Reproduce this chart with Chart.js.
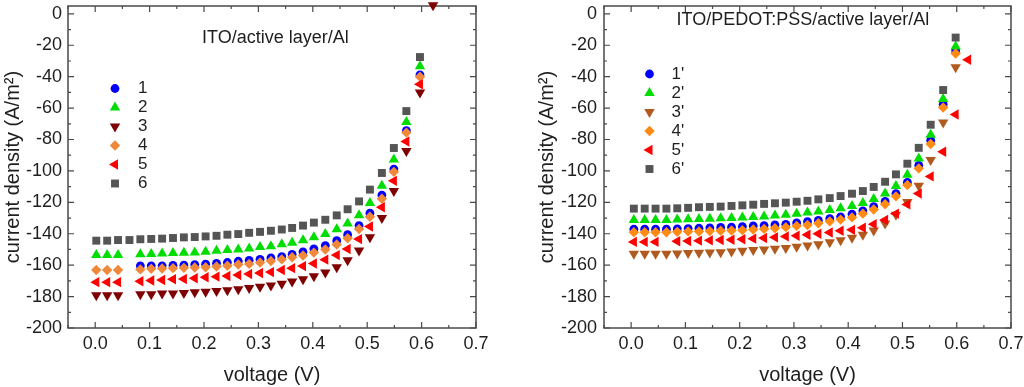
<!DOCTYPE html>
<html>
<head>
<meta charset="utf-8">
<script src="https://cdn.jsdelivr.net/npm/chart.js@4.4.0/dist/chart.umd.min.js"></script>
<style>
  body { margin: 0; background: #fff; }
  .panel { position: absolute; top: 0; width: 512px; height: 387px; }
</style>
</head>
<body>
<div class="panel" style="left:0"><canvas id="leftChart" width="512" height="387"></canvas></div>
<div class="panel" style="left:512px"><canvas id="rightChart" width="512" height="387"></canvas></div>
<script>
// voltage (V), one entry per measurement step
const voltageLeft = [0.002, 0.022, 0.042, 0.063, 0.083, 0.103, 0.123, 0.143, 0.163, 0.183, 0.203, 0.223, 0.243, 0.263, 0.283, 0.303,
    0.323, 0.343, 0.362, 0.382, 0.402, 0.423, 0.444, 0.464, 0.485, 0.505, 0.527, 0.549, 0.572, 0.597, 0.621];
const voltageRight = [0.005, 0.025, 0.045, 0.065, 0.085, 0.105, 0.125, 0.145, 0.165, 0.185, 0.205, 0.225, 0.245, 0.265, 0.285, 0.305,
    0.325, 0.345, 0.366, 0.386, 0.407, 0.427, 0.447, 0.468, 0.488, 0.509, 0.530, 0.552, 0.575, 0.598, 0.621];

// current density (A/m2), ITO/active layer/Al
const jLeft1 = [null, null, null, null, -160.4, -160.4, -160.4, -160.2, -160.0, -159.6, -159.4, -158.8, -158.3, -157.5, -156.9, -156.3,
    -155.4, -154.6, -153.1, -151.5, -149.6, -147.5, -144.4, -140.6, -134.8, -126.9, -115.4, -98.8, -74.4, -38.8, null];
const jLeft2 = [-153.5, -153.5, -153.5, null, -153.1, -152.9, -152.5, -152.3, -152.1, -151.9, -151.5, -150.8, -150.4, -150.0, -149.4, -148.5,
    -147.9, -146.7, -145.8, -144.2, -142.3, -140.2, -137.1, -133.4, -128.2, -120.4, -109.4, -92.7, -68.8, -33.4, null];
const jLeft3 = [-179.2, -179.2, -179.2, null, -178.5, -178.5, -178.1, -178.1, -177.7, -177.3, -176.9, -176.5, -176.0, -175.4, -174.6, -173.8,
    -172.9, -171.9, -170.4, -169.0, -167.0, -164.7, -161.3, -156.8, -150.6, -142.3, -130.0, -112.8, -87.3, -50.0, 5.5];
const jLeft4 = [-163.1, -163.1, -163.1, null, -162.7, -162.3, -162.1, -161.9, -161.7, -161.5, -161.3, -160.8, -160.4, -159.6, -159.2, -158.3,
    -157.3, -156.3, -155.0, -153.8, -152.0, -150.0, -146.8, -142.9, -137.0, -129.2, -117.7, -100.6, -75.6, -40.0, null];
const jLeft5 = [-170.8, -170.8, -170.8, null, -170.2, -169.8, -169.4, -169.0, -168.8, -168.3, -167.7, -167.3, -166.9, -166.3, -165.6, -165.0,
    -164.4, -163.1, -161.9, -160.6, -158.9, -156.5, -153.6, -149.7, -143.4, -135.4, -123.1, -106.3, -81.3, -44.8, null];
const jLeft6 = [-144.4, -144.4, -144.0, -144.0, -143.5, -143.3, -143.1, -142.7, -142.3, -142.1, -141.7, -141.3, -140.6, -140.2, -139.4, -138.8,
    -138.1, -137.3, -136.3, -134.8, -132.9, -131.1, -128.3, -124.4, -119.4, -111.9, -101.3, -85.4, -61.9, -27.5, null];

// current density (A/m2), ITO/PEDOT:PSS/active layer/Al
const jRight1 = [-137.1, -137.1, -137.1, -137.1, -136.9, -136.7, -136.5, -136.3, -136.0, -135.8, -135.4, -135.0, -134.8, -134.4, -134.0, -133.1,
    -132.3, -131.5, -130.4, -129.2, -127.5, -125.4, -122.7, -119.4, -114.4, -107.3, -96.5, -80.6, -57.7, -23.5, null];
const jRight2 = [-131.3, -131.3, -131.3, -131.3, -131.0, -130.8, -130.6, -130.4, -130.2, -130.0, -129.6, -129.4, -129.0, -128.3, -127.9, -127.3,
    -126.5, -125.8, -124.8, -123.8, -122.3, -120.4, -117.9, -114.4, -109.6, -102.5, -92.1, -76.9, -54.2, -20.8, null];
const jRight3 = [-152.7, -152.7, -152.7, -152.7, -152.5, -152.3, -152.1, -151.9, -151.7, -151.3, -150.8, -150.4, -150.0, -149.6, -149.0, -148.3,
    -147.5, -146.7, -145.4, -144.2, -142.5, -140.6, -137.9, -133.5, -127.9, -119.8, -109.4, -93.1, -69.2, -34.0, null];
const jRight4 = [-139.0, -139.0, -139.0, -139.0, -138.8, -138.5, -138.5, -138.3, -138.1, -137.9, -137.7, -137.3, -136.9, -136.5, -135.8, -135.0,
    -134.4, -133.3, -132.1, -131.0, -129.6, -127.2, -124.6, -121.2, -116.2, -109.0, -98.4, -82.9, -59.6, -25.2, null];
const jRight5 = [-145.2, -145.2, -145.2, null, -144.8, -144.6, -144.4, -144.2, -144.0, -143.8, -143.5, -143.1, -142.7, -142.3, -141.7, -141.3,
    -140.6, -140.0, -139.2, -138.1, -137.5, -136.2, -133.9, -131.2, -127.2, -121.3, -114.4, -103.5, -87.8, -64.1, -29.2];
const jRight6 = [-124.0, -124.0, -124.0, -124.0, -123.8, -123.5, -123.1, -122.9, -122.7, -122.3, -121.9, -121.5, -121.0, -120.6, -120.2, -119.6,
    -119.0, -118.1, -117.3, -116.0, -114.5, -112.8, -110.2, -106.9, -102.2, -95.4, -85.3, -70.6, -48.5, -15.1, null];

const labelsLeft = ['1', '2', '3', '4', '5', '6'];
const labelsRight = ["1'", "2'", "3'", "4'", "5'", "6'"];
const colorsLeft = ['#0000ff', '#00dd00', '#7f0000', '#f0883c', '#ff0000', '#555555'];
const colorsRight = ['#0000ff', '#00dd00', '#b05a1e', '#ff8a14', '#ff0000', '#555555'];

const markers = [
    {style: 'circle', rotation: 0, radius: 4.4},
    {style: 'triangle', rotation: 0, radius: 6},
    {style: 'triangle', rotation: 180, radius: 6},
    {style: 'rectRot', rotation: 0, radius: 5.2},
    {style: 'triangle', rotation: -90, radius: 6},
    {style: 'rect', rotation: 0, radius: 5.6}
];

const FONT = '"Liberation Sans", Arial, sans-serif';
Chart.defaults.font.family = FONT;
Chart.defaults.color = '#1e1e1e';

// frame with inward major/minor ticks on all four sides (Origin style)
const frameTicks = {
    id: 'frameTicks',
    beforeDatasetsDraw(chart) {
        const {ctx, chartArea: a, scales: {x, y}} = chart;
        ctx.save();
        ctx.strokeStyle = '#4a4a4a';
        ctx.lineWidth = 1.5;
        ctx.strokeRect(a.left, a.top, a.right - a.left, a.bottom - a.top);
        ctx.lineWidth = 1.2;
        ctx.beginPath();
        for (let k = -1; k <= 14; k++) {
            const px = x.getPixelForValue(k * 0.05);
            const len = k % 2 === 0 ? 6 : 3;
            ctx.moveTo(px, a.bottom); ctx.lineTo(px, a.bottom - len);
            ctx.moveTo(px, a.top); ctx.lineTo(px, a.top + len);
        }
        for (let k = -20; k <= 0; k++) {
            const py = y.getPixelForValue(k * 10);
            const len = k % 2 === 0 ? 6 : 3;
            ctx.moveTo(a.left, py); ctx.lineTo(a.left + len, py);
            ctx.moveTo(a.right, py); ctx.lineTo(a.right - len, py);
        }
        ctx.stroke();
        ctx.restore();
    }
};

// in-plot legend and device caption
const insideLegend = {
    id: 'insideLegend',
    afterDatasetsDraw(chart, args, opts) {
        const ctx = chart.ctx;
        ctx.save();
        chart.data.datasets.forEach((ds, i) => {
            const y = opts.y + i * opts.step;
            ctx.fillStyle = ds.backgroundColor;
            Chart.helpers.drawPoint(ctx, {
                pointStyle: ds.pointStyle, rotation: ds.pointRotation,
                radius: ds.pointRadius, borderWidth: 0
            }, opts.x, y);
            ctx.fillStyle = '#1e1e1e';
            ctx.font = '17px ' + FONT;
            ctx.textBaseline = 'middle';
            ctx.textAlign = 'left';
            ctx.fillText(ds.label, opts.x + opts.gap, y);
        });
        ctx.font = '18px ' + FONT;
        ctx.textBaseline = 'middle';
        ctx.fillText(opts.caption, opts.captionX, opts.captionY);
        ctx.restore();
    }
};

function buildDatasets(xs, series, labels, colors) {
    return series.map((ys, i) => ({
        label: labels[i],
        data: xs.map((v, k) => ({x: v, y: ys[k]})).filter(p => p.y !== null),
        backgroundColor: colors[i],
        borderColor: colors[i],
        pointStyle: markers[i].style,
        pointRotation: markers[i].rotation,
        pointRadius: markers[i].radius,
        pointHoverRadius: markers[i].radius,
        pointBorderWidth: 0,
        showLine: false,
        clip: false,
        order: 10 - i
    }));
}

function createPanel(canvasId, xs, series, labels, colors, lay) {
    const ctx = document.getElementById(canvasId).getContext('2d');
    return new Chart(ctx, {
        type: 'scatter',
        data: {datasets: buildDatasets(xs, series, labels, colors)},
        options: {
            responsive: false,
            animation: false,
            devicePixelRatio: 1,
            layout: {padding: {left: 0, right: lay.padRight, top: 0, bottom: 0}},
            plugins: {
                legend: {display: false},
                tooltip: {enabled: false},
                insideLegend: lay.legend
            },
            scales: {
                x: {
                    type: 'linear',
                    min: -0.05,
                    max: 0.7,
                    grid: {display: false, drawTicks: false},
                    border: {display: false},
                    ticks: {
                        stepSize: 0.1,
                        includeBounds: false,
                        padding: 5,
                        font: {size: 18},
                        callback: v => v.toFixed(1)
                    },
                    title: {display: true, text: 'voltage (V)', font: {size: 20}, padding: {top: 0, bottom: 0}},
                    afterFit: s => { s.height = 59; s.paddingLeft = 0; s.paddingRight = 0; }
                },
                y: {
                    type: 'linear',
                    min: -200,
                    max: 5,
                    grid: {display: false, drawTicks: false},
                    border: {display: false},
                    ticks: {
                        stepSize: 20,
                        includeBounds: false,
                        padding: lay.tickPad,
                        font: {size: 18}
                    },
                    title: {display: true, text: 'current density (A/m²)', font: {size: 20}, padding: {top: lay.titlePad, bottom: 0}},
                    afterFit: s => { s.width = lay.yWidth; s.paddingTop = 0; s.paddingBottom = 0; }
                }
            }
        },
        plugins: [frameTicks, insideLegend]
    });
}

createPanel('leftChart', voltageLeft,
    [jLeft1, jLeft2, jLeft3, jLeft4, jLeft5, jLeft6], labelsLeft, colorsLeft,
    {padRight: 36, yWidth: 68, tickPad: 6, titlePad: 1,
     legend: {x: 115, y: 88.5, step: 19, gap: 23, caption: 'ITO/active layer/Al', captionX: 202, captionY: 38}});

createPanel('rightChart', voltageRight,
    [jRight1, jRight2, jRight3, jRight4, jRight5, jRight6], labelsRight, colorsRight,
    {padRight: 13, yWidth: 92, tickPad: 7, titlePad: 23.5,
     legend: {x: 137.5, y: 74, step: 19, gap: 22, caption: 'ITO/PEDOT:PSS/active layer/Al', captionX: 164.5, captionY: 20}});
</script>
</body>
</html>
